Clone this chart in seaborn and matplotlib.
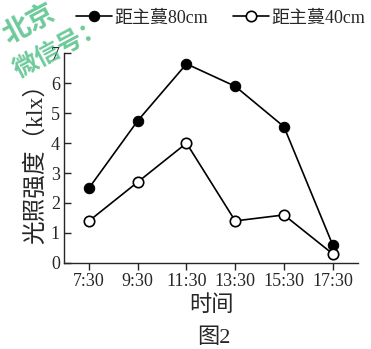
import numpy as np
import pandas as pd
import seaborn as sns
from matplotlib import pyplot as plt

times = ["7:30", "9:30", "11:30", "13:30", "15:30", "17:30"]
light_80cm = [2.5, 4.75, 6.65, 5.9, 4.55, 0.6]
light_40cm = [1.4, 2.7, 4.0, 1.4, 1.6, 0.3]
label_80 = "距主蔓80cm"
label_40 = "距主蔓40cm"

sns.set_style("ticks")
plt.rcParams['font.family'] = ['Liberation Serif', 'Noto Sans CJK SC']

df = pd.DataFrame({"pos": np.arange(len(times)), "time": times,
				   "d80": light_80cm, "d40": light_40cm})

fig = plt.figure(figsize=(3.71, 3.49), dpi=100)
ax = fig.add_axes([0.173, 0.247, 0.792, 0.6])

sns.lineplot(data=df, x="pos", y="d80", ax=ax, color="black", linewidth=1.2,
			 marker="o", markersize=7.5, markerfacecolor="black",
			 markeredgecolor="black", label=label_80)
sns.lineplot(data=df, x="pos", y="d40", ax=ax, color="black", linewidth=1.2,
			 marker="o", markersize=7.5, markerfacecolor="white",
			 markeredgecolor="black", markeredgewidth=1.2, label=label_40)

ax.set_xlim(-0.51, 5.52)
ax.set_ylim(0, 7)
ax.set_xticks(df["pos"])
ax.set_xticklabels(times)
ax.set_yticks(range(0, 8))
ax.tick_params(axis="x", direction="out", length=5, width=1, labelsize=13, pad=2)
ax.tick_params(axis="y", direction="in", length=5, width=1, labelsize=13, pad=3)
for s in ["top", "right"]:
	ax.spines[s].set_visible(False)
for s in ["left", "bottom"]:
	ax.spines[s].set_linewidth(1)

ax.set_xlabel("时间", fontsize=16, labelpad=4)
ax.set_ylabel("光照强度（klx）", fontsize=17, labelpad=3)

ax.legend(loc="center", bbox_to_anchor=(0.595, 0.948), bbox_transform=fig.transFigure,
		  ncol=2, frameon=False, fontsize=13, handlelength=2.0, handletextpad=0.1,
		  columnspacing=1.4, borderaxespad=0, borderpad=0)

fig.text(0.575, 0.03, "图2", ha="center", va="center", fontsize=16)

# watermark
wm = dict(color="#3cb878", alpha=0.75, fontweight="bold", rotation=28,
		  ha="center", va="center", family=['Noto Sans CJK SC'])
fig.text(0.08, 0.93, "北京", fontsize=20, **wm)
fig.text(0.16, 0.86, "微信号：", fontsize=18, **wm)

plt.savefig("out.png", dpi=100)
